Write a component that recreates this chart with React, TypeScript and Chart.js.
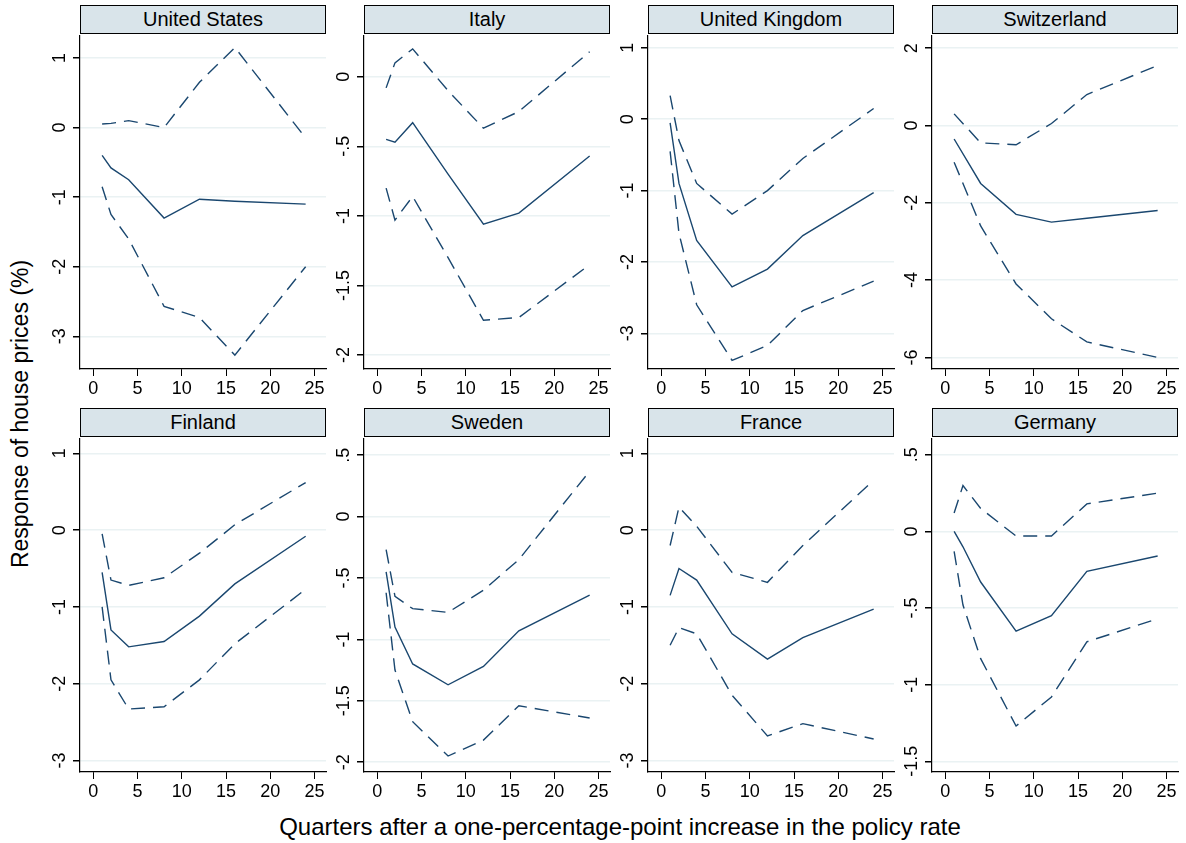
import React, { useEffect, useRef } from 'react';
import { Chart, registerables } from 'chart.js';

Chart.register(...registerables);

const quarters = [1, 2, 4, 8, 12, 16, 24];
const quartersCH = [1, 4, 8, 12, 16, 24];

const usMid = [-0.4, -0.58, -0.75, -1.3, -1.03, -1.06, -1.1];
const usUp = [0.05, 0.06, 0.1, 0, 0.65, 1.15, -0.15];
const usLow = [-0.85, -1.25, -1.6, -2.57, -2.73, -3.27, -2.0];

const itMid = [-0.45, -0.47, -0.33, -0.7, -1.06, -0.98, -0.57];
const itUp = [-0.08, 0.1, 0.2, -0.1, -0.37, -0.25, 0.18];
const itLow = [-0.8, -1.03, -0.86, -1.3, -1.75, -1.73, -1.35];

const ukMid = [-0.05, -0.9, -1.7, -2.35, -2.1, -1.63, -1.03];
const ukUp = [0.33, -0.3, -0.9, -1.33, -1.0, -0.55, 0.15];
const ukLow = [-0.45, -1.6, -2.6, -3.38, -3.17, -2.68, -2.27];

const chMid = [-0.35, -1.5, -2.3, -2.5, -2.4, -2.2];
const chUp = [0.3, -0.45, -0.5, 0.05, 0.8, 1.55];
const chLow = [-0.95, -2.6, -4.1, -5.0, -5.6, -6.0];

const fiMid = [-0.55, -1.3, -1.52, -1.45, -1.12, -0.7, -0.08];
const fiUp = [-0.05, -0.65, -0.72, -0.62, -0.3, 0.07, 0.62];
const fiLow = [-1.0, -1.95, -2.33, -2.3, -1.95, -1.48, -0.77];

const seMid = [-0.45, -0.9, -1.2, -1.37, -1.22, -0.93, -0.64];
const seUp = [-0.27, -0.65, -0.75, -0.78, -0.6, -0.35, 0.37];
const seLow = [-0.62, -1.25, -1.67, -1.95, -1.82, -1.54, -1.64];

const frMid = [-0.85, -0.5, -0.65, -1.35, -1.68, -1.4, -1.03];
const frUp = [-0.2, 0.3, 0.05, -0.55, -0.68, -0.2, 0.65];
const frLow = [-1.5, -1.27, -1.35, -2.15, -2.68, -2.52, -2.72];

const deMid = [0, -0.1, -0.33, -0.65, -0.55, -0.26, -0.16];
const deUp = [0.12, 0.3, 0.15, -0.03, -0.03, 0.18, 0.25];
const deLow = [-0.13, -0.48, -0.83, -1.27, -1.08, -0.72, -0.57];

const xTicks = [0, 5, 10, 15, 20, 25];

const NAVY = '#1a476f';
const FONT = 'Arial, "Liberation Sans", sans-serif';
const PLOT_W = 246;
const PLOT_H = 334;
const Y_AXIS_W = 45;
const X_AXIS_H = 36;

const fmt = (v: number) => String(v).replace('0.', '.');

interface PanelProps {
  title: string;
  left: number;
  top: number;
  x: number[];
  mid: number[];
  up: number[];
  low: number[];
  yMin: number;
  yMax: number;
  yTicks: number[];
}

const Panel: React.FC<PanelProps> = ({ title, left, top, x, mid, up, low, yMin, yMax, yTicks }) => {
  const ref = useRef<HTMLCanvasElement>(null);

  useEffect(() => {
    const ctx = ref.current?.getContext('2d');
    if (!ctx) return;
    const pts = (ys: number[]) => ys.map((y, i) => ({ x: x[i], y }));
    const line = (ys: number[], dash: number[]) => ({
      data: pts(ys),
      borderColor: NAVY,
      borderWidth: 1.4,
      borderDash: dash,
      pointRadius: 0,
      tension: 0,
      fill: false,
    });
    // y labels drawn rotated, Stata style
    const yLabels = {
      id: 'yLabels',
      afterDraw(chart: Chart) {
        const c = chart.ctx;
        const s = chart.scales.y;
        const a = chart.chartArea;
        c.save();
        c.fillStyle = '#000';
        c.font = `18px ${FONT}`;
        c.textAlign = 'center';
        c.textBaseline = 'bottom';
        yTicks.forEach((t) => {
          const py = s.getPixelForValue(t);
          c.save();
          c.translate(a.left - 11, py);
          c.rotate(-Math.PI / 2);
          c.fillText(fmt(t), 0, 0);
          c.restore();
        });
        c.restore();
      },
    };
    const chart = new Chart(ctx, {
      type: 'line',
      data: { datasets: [line(up, [14, 8]), line(mid, []), line(low, [14, 8])] },
      options: {
        animation: false,
        responsive: false,
        layout: { padding: { top: 0, right: 1, left: 0, bottom: 0 } },
        plugins: { legend: { display: false }, tooltip: { enabled: false } },
        scales: {
          x: {
            type: 'linear',
            min: -1.5,
            max: 26.3,
            afterBuildTicks: (s: any) => { s.ticks = xTicks.map((v) => ({ value: v })); },
            afterFit: (s: any) => { s.height = X_AXIS_H; },
            grid: { display: true, drawOnChartArea: false, drawTicks: true, tickLength: 7, color: '#000' },
            border: { display: true, color: '#000', width: 1.2 },
            ticks: { color: '#000', font: { family: FONT, size: 18 }, padding: 2, maxRotation: 0 },
          },
          y: {
            min: yMin,
            max: yMax,
            afterBuildTicks: (s: any) => { s.ticks = yTicks.map((v) => ({ value: v })); },
            afterFit: (s: any) => { s.width = Y_AXIS_W; },
            grid: { color: '#eaf2f3', lineWidth: 1.5, drawTicks: true, tickLength: 7, tickColor: '#000' } as any,
            border: { display: true, color: '#000', width: 1.2 },
            ticks: { display: false },
          },
        },
      },
      plugins: [yLabels],
    });
    return () => chart.destroy();
  }, []);

  return (
    <>
      <div
        style={{
          position: 'absolute', left, top: top - 30, width: PLOT_W, height: 29,
          background: '#d9e4ea', border: '1px solid #000', boxSizing: 'border-box',
          textAlign: 'center', fontFamily: FONT, fontSize: 20, lineHeight: '27px', color: '#000',
        }}
      >
        {title}
      </div>
      <canvas
        ref={ref}
        width={PLOT_W + Y_AXIS_W + 1}
        height={PLOT_H + X_AXIS_H}
        style={{ position: 'absolute', left: left - Y_AXIS_W, top }}
      />
    </>
  );
};

const colLeft = [80, 364, 648, 932];
const rowTop = [35, 438];

export default function App() {
  return (
    <div style={{ position: 'fixed', left: 0, top: 0, width: 1186, height: 843, background: '#fff', overflow: 'hidden' }}>
      <Panel title="United States" left={colLeft[0]} top={rowTop[0]} x={quarters} mid={usMid} up={usUp} low={usLow} yMin={-3.47} yMax={1.33} yTicks={[-3, -2, -1, 0, 1]} />
      <Panel title="Italy" left={colLeft[1]} top={rowTop[0]} x={quarters} mid={itMid} up={itUp} low={itLow} yMin={-2.1} yMax={0.3} yTicks={[-2, -1.5, -1, -0.5, 0]} />
      <Panel title="United Kingdom" left={colLeft[2]} top={rowTop[0]} x={quarters} mid={ukMid} up={ukUp} low={ukLow} yMin={-3.5} yMax={1.18} yTicks={[-3, -2, -1, 0, 1]} />
      <Panel title="Switzerland" left={colLeft[3]} top={rowTop[0]} x={quartersCH} mid={chMid} up={chUp} low={chLow} yMin={-6.3} yMax={2.34} yTicks={[-6, -4, -2, 0, 2]} />
      <Panel title="Finland" left={colLeft[0]} top={rowTop[1]} x={quarters} mid={fiMid} up={fiUp} low={fiLow} yMin={-3.15} yMax={1.2} yTicks={[-3, -2, -1, 0, 1]} />
      <Panel title="Sweden" left={colLeft[1]} top={rowTop[1]} x={quarters} mid={seMid} up={seUp} low={seLow} yMin={-2.08} yMax={0.64} yTicks={[-2, -1.5, -1, -0.5, 0, 0.5]} />
      <Panel title="France" left={colLeft[2]} top={rowTop[1]} x={quarters} mid={frMid} up={frUp} low={frLow} yMin={-3.15} yMax={1.2} yTicks={[-3, -2, -1, 0, 1]} />
      <Panel title="Germany" left={colLeft[3]} top={rowTop[1]} x={quarters} mid={deMid} up={deUp} low={deLow} yMin={-1.57} yMax={0.61} yTicks={[-1.5, -1, -0.5, 0, 0.5]} />
      <div style={{ position: 'absolute', left: 20, top: 414, transform: 'translate(-50%, -50%) rotate(-90deg)', whiteSpace: 'nowrap', fontFamily: FONT, fontSize: 23 }}>
        Response of house prices (%)
      </div>
      <div style={{ position: 'absolute', left: 0, width: 1240, top: 813, textAlign: 'center', fontFamily: FONT, fontSize: 24 }}>
        Quarters after a one-percentage-point increase in the policy rate
      </div>
    </div>
  );
}
